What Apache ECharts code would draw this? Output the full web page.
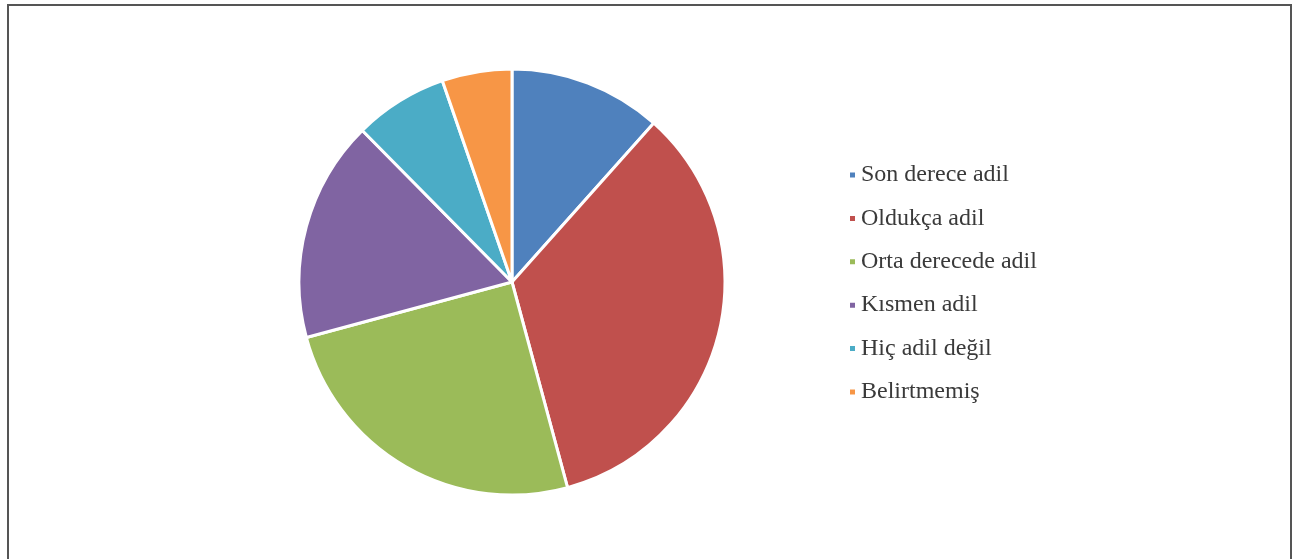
<!DOCTYPE html>
<html>
<head>
<meta charset="utf-8">
<script src="https://cdn.jsdelivr.net/npm/echarts@6/dist/echarts.min.js"></script>
<style>
  html, body { margin: 0; padding: 0; background: #fff; }
  #chart { width: 1298px; height: 559px; }
</style>
</head>
<body>
<div id="chart"></div>
<script>
var categories = ["Son derece adil", "Oldukça adil", "Orta derecede adil", "Kısmen adil", "Hiç adil değil", "Belirtmemiş"];
var values = [11.6, 34.2, 25.0, 16.8, 7.1, 5.3];
var colors = ["#4F81BD", "#C0504D", "#9BBB59", "#8064A2", "#4BACC6", "#F79646"];

document.addEventListener("DOMContentLoaded", function () {
    var chartDom = document.getElementById("chart");
    var myChart = echarts.init(chartDom);

    var pieData = categories.map(function (name, i) {
        return { name: name, value: values[i] };
    });

    myChart.setOption({
        animation: false,
        color: colors,
        graphic: [{
            type: "rect",
            shape: { x: 8, y: 5, width: 1283, height: 620 },
            style: { fill: "none", stroke: "#555", lineWidth: 2 }
        }],
        legend: {
            orient: "vertical",
            left: 843,
            top: 158,
            itemWidth: 7,
            itemHeight: 7,
            itemGap: 19.4,
            icon: "rect",
            textStyle: { fontFamily: "Liberation Serif", fontSize: 24, lineHeight: 24, color: "#3a3a3a" },
            data: categories
        },
        series: [{
            type: "pie",
            center: [512, 282],
            radius: 213,
            startAngle: 90,
            clockwise: true,
            label: { show: false },
            labelLine: { show: false },
            itemStyle: { borderColor: "#fff", borderWidth: 3 },
            data: pieData
        }]
    });

    window.addEventListener("resize", function () {
        myChart.resize();
    });
});
</script>
</body>
</html>
